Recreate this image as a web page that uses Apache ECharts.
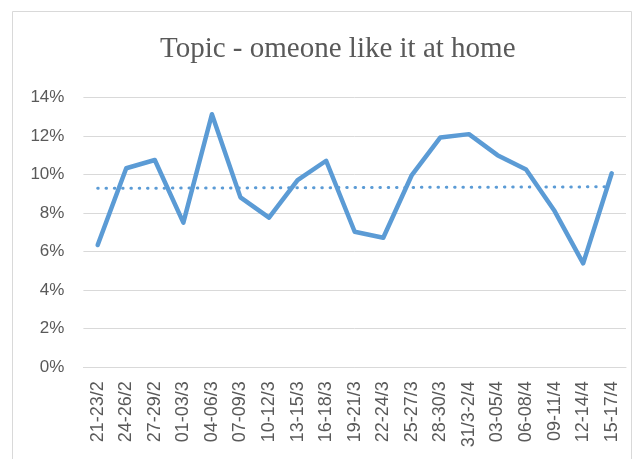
<!DOCTYPE html>
<html><head><meta charset="utf-8">
<script src="https://cdn.jsdelivr.net/npm/echarts@6/dist/echarts.min.js"></script>
<style>html,body{margin:0;padding:0;background:#fff}#c{width:642px;height:459px}</style>
</head><body><div id="c"></div>
<script>
var titleText = 'Topic - omeone like it at home';
var categories = ['21-23/2','24-26/2','27-29/2','01-03/3','04-06/3','07-09/3','10-12/3','13-15/3','16-18/3','19-21/3','22-24/3','25-27/3','28-30/3','31/3-2/4','03-05/4','06-08/4','09-11/4','12-14/4','15-17/4'];
var values = [6.34,10.32,10.75,7.50,13.12,8.81,7.76,9.71,10.71,7.03,6.72,9.97,11.92,12.09,11.0,10.26,8.10,5.39,10.06];
var trendValues = [9.28,null,null,null,null,null,null,null,null,null,null,null,null,null,null,null,null,null,9.36];
var yTicks = [0,2,4,6,8,10,12,14];

var labelFont = '"Liberation Sans", Arial, sans-serif';
var chart = echarts.init(document.getElementById('c'), null, {renderer:'canvas'});
chart.setOption({
  animation:false,
  backgroundColor:'#fff',
  graphic:[{type:'rect',shape:{x:12.5,y:11.5,width:619,height:460},style:{fill:'none',stroke:'#d9d9d9',lineWidth:1},silent:true}],
  title:{text:titleText,left:155,top:30,textStyle:{fontFamily:'Liberation Serif',fontWeight:'normal',fontSize:29,color:'#595959'}},
  grid:{left:83.4,right:16,top:97.3,bottom:91.7,containLabel:false},
  xAxis:{type:'category',data:categories,boundaryGap:true,
    axisLine:{show:true,lineStyle:{color:'#d9d9d9',width:1}},
    axisTick:{show:false},
    axisLabel:{rotate:90,interval:0,color:'#595959',fontFamily:labelFont,fontSize:18,margin:14}},
  yAxis:{type:'value',min:yTicks[0],max:yTicks[yTicks.length-1],interval:2,
    axisLine:{show:false},axisTick:{show:false},
    splitLine:{lineStyle:{color:'#d9d9d9',width:1}},
    axisLabel:{formatter:'{value}%',color:'#595959',fontFamily:labelFont,fontSize:17,margin:19}},
  series:[
    {type:'line',data:values,symbol:'none',lineStyle:{color:'#5b9bd5',width:4.5,join:'round',cap:'round'},z:3},
    {type:'line',data:trendValues,connectNulls:true,symbol:'none',lineStyle:{color:'#5b9bd5',width:3,type:[0.5,7.8],cap:'round'},z:2}
  ]
});
</script></body></html>
